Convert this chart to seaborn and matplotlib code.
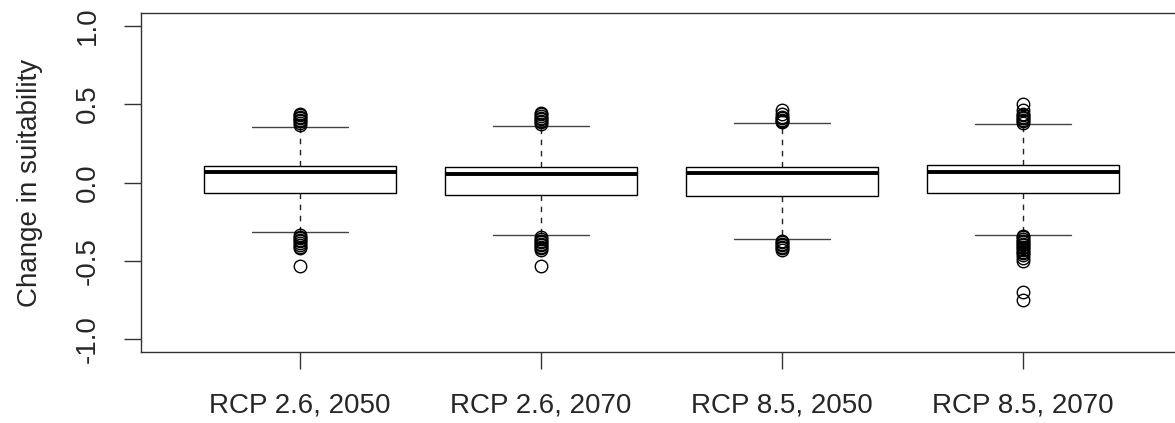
import seaborn as sns
import matplotlib.pyplot as plt
import numpy as np
import pandas as pd

# scenario labels on the x axis
scenarios = ['RCP 2.6, 2050', 'RCP 2.6, 2070', 'RCP 8.5, 2050', 'RCP 8.5, 2070']

# box summary values
q1 = [-0.067, -0.080, -0.084, -0.067]
medians = [0.069, 0.054, 0.060, 0.067]
q3 = [0.107, 0.099, 0.102, 0.110]
whisker_lo = [-0.317, -0.334, -0.359, -0.332]
whisker_hi = [0.357, 0.361, 0.379, 0.374]

# outlying points (approximate)
outliers_hi = [
    [0.37, 0.38, 0.39, 0.40, 0.41, 0.42, 0.43, 0.44],
    [0.375, 0.385, 0.395, 0.405, 0.415, 0.425, 0.435, 0.445],
    [0.385, 0.39, 0.40, 0.41, 0.42, 0.44, 0.465],
    [0.38, 0.39, 0.40, 0.41, 0.42, 0.43, 0.44, 0.46, 0.50],
]
outliers_lo = [
    [-0.335, -0.345, -0.355, -0.365, -0.375, -0.385, -0.40, -0.41, -0.42, -0.534],
    [-0.35, -0.36, -0.37, -0.38, -0.39, -0.40, -0.41, -0.42, -0.43, -0.534],
    [-0.37, -0.38, -0.39, -0.40, -0.41, -0.42, -0.43],
    [-0.34, -0.35, -0.36, -0.37, -0.38, -0.39, -0.40, -0.41, -0.42, -0.43,
     -0.44, -0.45, -0.46, -0.48, -0.50, -0.70, -0.75],
]

# rebuild a sample per scenario that reproduces those box statistics
rows = []
for i, name in enumerate(scenarios):
    vals = (outliers_lo[i] + [whisker_lo[i]] + [q1[i]] * 60 + [medians[i]] * 60
            + [q3[i]] * 60 + [whisker_hi[i]] + outliers_hi[i])
    rows += [(name, v) for v in vals]
df = pd.DataFrame(rows, columns=['scenario', 'change'])

sns.set_style('ticks')
plt.rcParams['font.family'] = ['Liberation Sans', 'DejaVu Sans']

fig = plt.figure(figsize=(11.75, 4.23), dpi=100)
ax = fig.add_axes([0.12, 0.168, 0.886, 0.8007])

sns.boxplot(data=df, x='scenario', y='change', ax=ax, color='white',
            linecolor='black', linewidth=1, width=0.8, whis=1.5,
            medianprops=dict(linewidth=2.8, color='black'),
            whiskerprops=dict(linestyle=(0, (4, 4)), linewidth=1, color='#222222'),
            capprops=dict(linewidth=1, color='#444444'),
            flierprops=dict(marker='o', markersize=9, markerfacecolor='none',
                            markeredgecolor='black', markeredgewidth=1.0))

ax.set_xlim(-0.66, 3.66)
ax.set_ylim(-1.08, 1.08)
ax.set_yticks([-1.0, -0.5, 0.0, 0.5, 1.0])
ax.set_yticklabels(['-1.0', '-0.5', '0.0', '0.5', '1.0'], rotation=90, va='center')
ax.set_xlabel('')
ax.set_ylabel('Change in suitability', fontsize=20, labelpad=23)
ax.tick_params(axis='both', length=12, width=1, pad=17, labelsize=20, color='#333333')

for side in ['left', 'right', 'top', 'bottom']:
    ax.spines[side].set_visible(True)
    ax.spines[side].set_color('#333333')
    ax.spines[side].set_linewidth(1)

plt.savefig('out.png', dpi=100)
